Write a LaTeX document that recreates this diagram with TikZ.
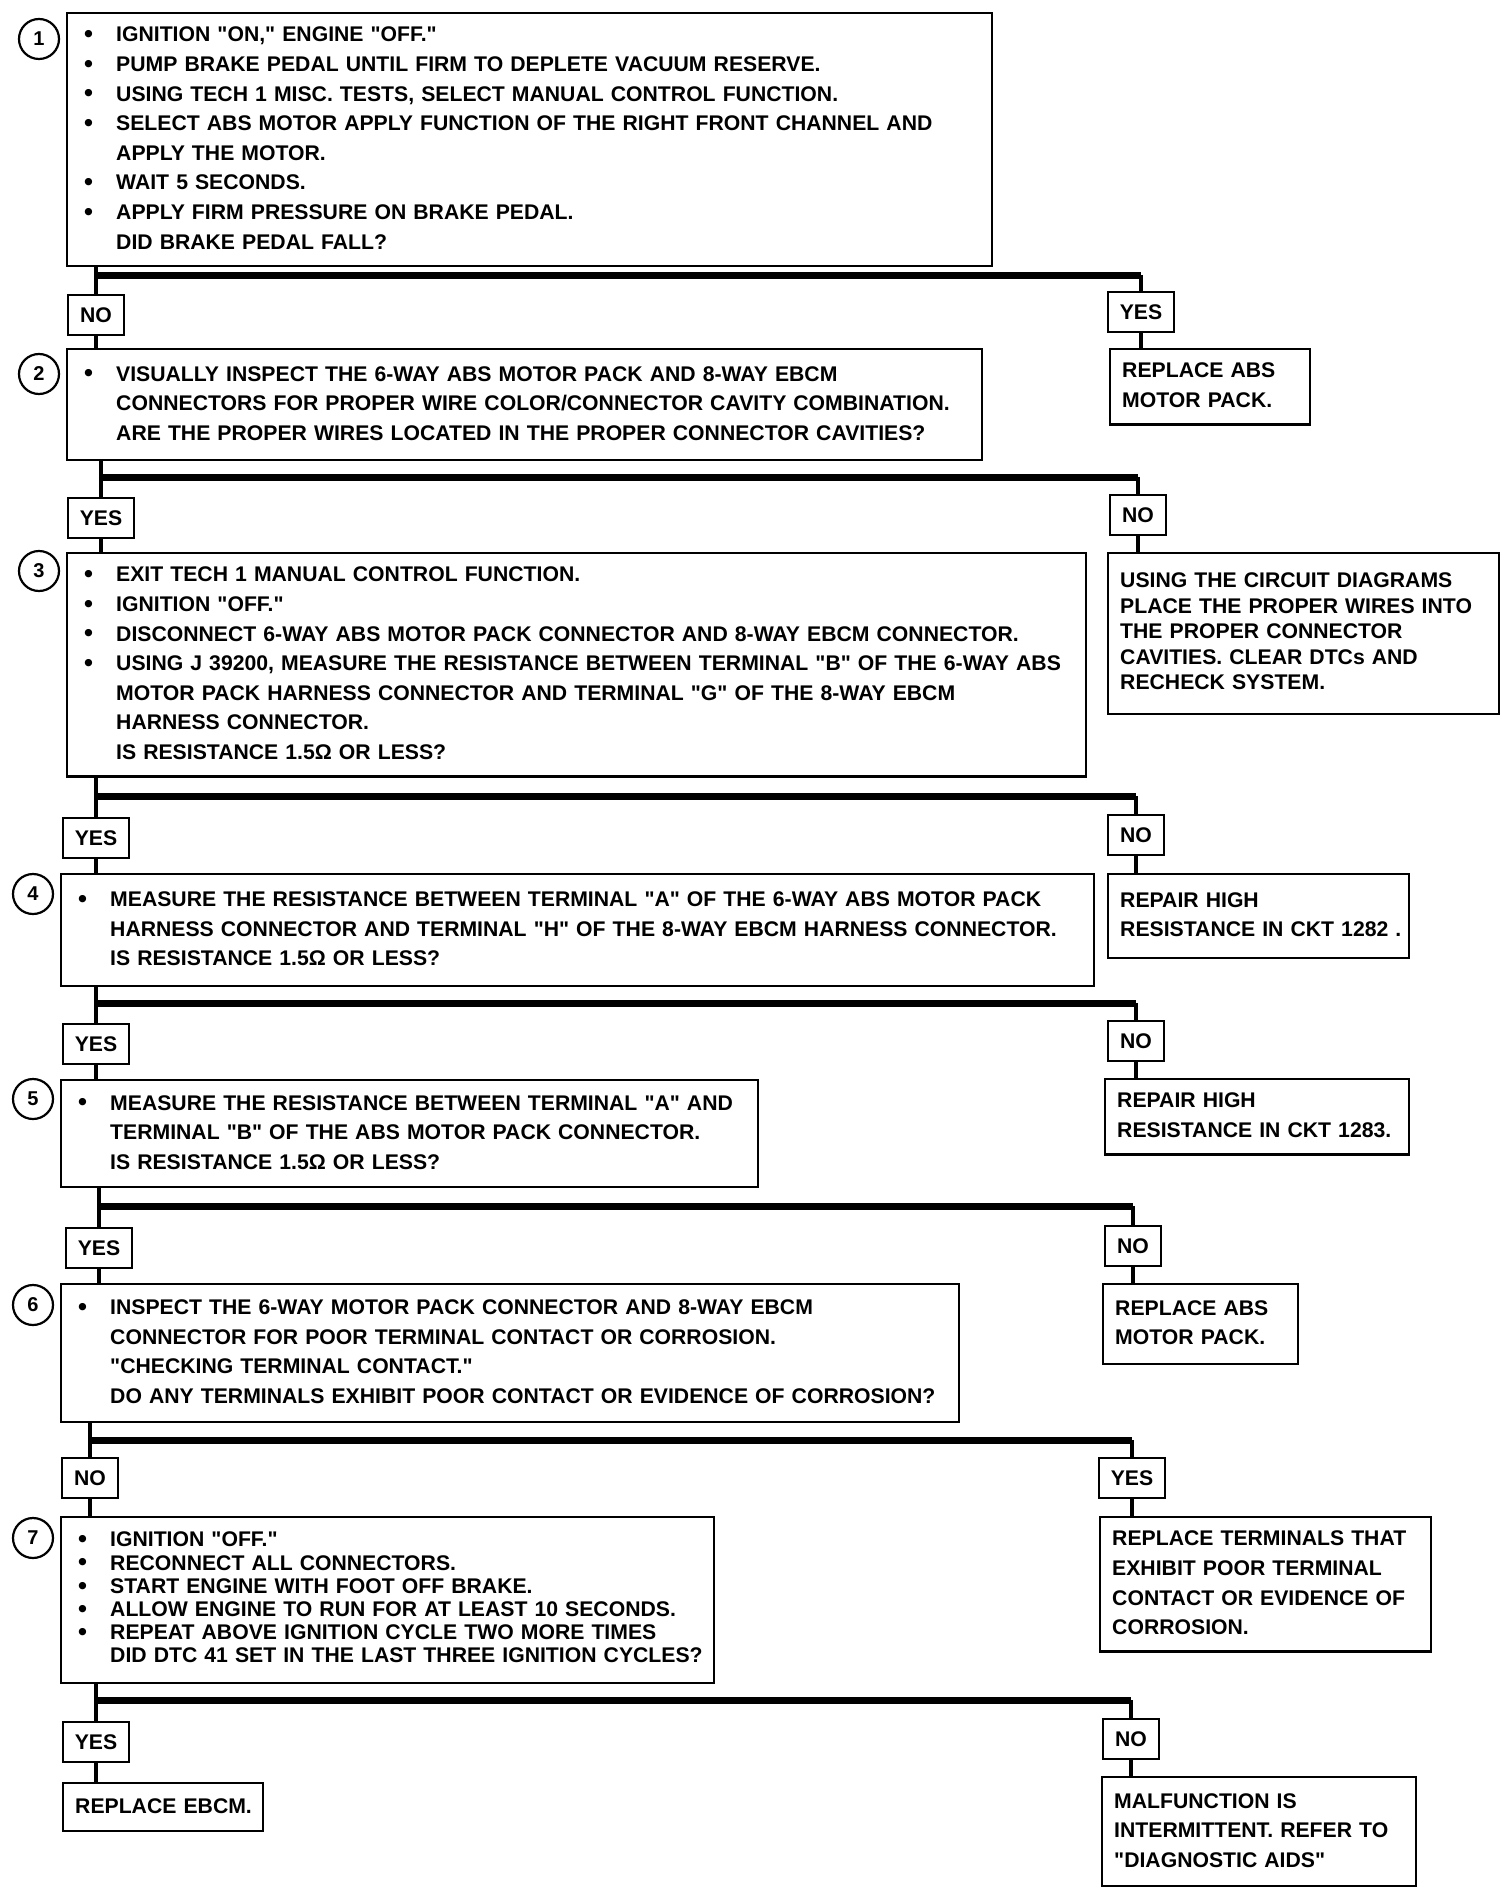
\documentclass[tikz,border=0pt]{standalone}
\usepackage{fontspec}
\setsansfont{Liberation Sans}
\usetikzlibrary{positioning}
\tikzset{
  qbox/.style={
    draw=black,
    line width=1.2pt,
    anchor=north west,
    align=left,
    inner xsep=6pt,
    inner ysep=4pt,
    font=\sffamily\bfseries\fontsize{10.6}{14.8}\selectfont
  },
  tightbox/.style={
    qbox,
    font=\sffamily\bfseries\fontsize{10.6}{11.6}\selectfont
  },
  actbox/.style={
    qbox
  },
  wideactbox/.style={
    actbox,
    font=\sffamily\bfseries\fontsize{10.6}{12.7}\selectfont
  },
  answer/.style={
    draw=black,
    line width=1.2pt,
    minimum height=20pt,
    inner xsep=6pt,
    font=\sffamily\bfseries\fontsize{10.6}{12}\selectfont
  },
  stepnum/.style={
    circle,
    draw=black,
    line width=1.1pt,
    minimum size=20pt,
    inner sep=0pt,
    font=\sffamily\bfseries\fontsize{10}{12}\selectfont
  },
  link/.style={
    line width=2pt,
    draw=black
  },
  barline/.style={
    line width=3.5pt,
    draw=black
  }
}
\newcommand{\itm}{\makebox[18.5pt][l]{\hspace{2.5pt}\raisebox{-0.4pt}{\scalebox{1.2}{\textbullet}}}}
\newcommand{\cont}{\hspace*{18.5pt}}
\newcommand{\qq}[1]{\textquotedbl#1\textquotedbl}
\newcommand{\rows}[1]{\begin{tabular}{@{}l@{}}#1\end{tabular}}

\begin{document}
\begin{tikzpicture}[x=0.5pt, y=-0.5pt]
\useasboundingbox (0,0) rectangle (1504,1894);

% step 1
\node[stepnum] (n1) at (39,39) {1};
\node[qbox, text width=450.5pt, minimum height=125.5pt] (q1) at (66,12) {\rows{
  \itm IGNITION \qq{ON,} ENGINE \qq{OFF.}\\
  \itm PUMP BRAKE PEDAL UNTIL FIRM TO DEPLETE VACUUM RESERVE.\\
  \itm USING TECH 1 MISC. TESTS, SELECT MANUAL CONTROL FUNCTION.\\
  \itm SELECT ABS MOTOR APPLY FUNCTION OF THE RIGHT FRONT CHANNEL AND\\
  \cont APPLY THE MOTOR.\\
  \itm WAIT 5 SECONDS.\\
  \itm APPLY FIRM PRESSURE ON BRAKE PEDAL.\\
  \cont DID BRAKE PEDAL FALL?}
};
\coordinate (j1) at (91,275);
\node[answer] (no1) at (96,315) {NO};
\node[answer] (yes1) at (1141,312) {YES};

% step 2
\node[stepnum] (n2) at (39,374) {2};
\node[qbox, text width=445.5pt, minimum height=55.5pt] (q2) at (66,348) {\rows{
  \itm VISUALLY INSPECT THE 6-WAY ABS MOTOR PACK AND 8-WAY EBCM\\
  \cont CONNECTORS FOR PROPER WIRE COLOR/CONNECTOR CAVITY COMBINATION.\\
  \cont ARE THE PROPER WIRES LOCATED IN THE PROPER CONNECTOR CAVITIES?}
};
\node[actbox, text width=88pt, minimum height=37.5pt] (r1) at (1109,348) {\rows{
  REPLACE ABS\\
  MOTOR PACK.}
};
\coordinate (j2) at (91,477);
\node[answer] (yes2) at (101,518) {YES};
\node[answer] (no2) at (1138,515) {NO};

% step 3
\node[stepnum] (n3) at (39,571) {3};
\node[qbox, text width=497.5pt, minimum height=111.5pt] (q3) at (66,552) {\rows{
  \itm EXIT TECH 1 MANUAL CONTROL FUNCTION.\\
  \itm IGNITION \qq{OFF.}\\
  \itm DISCONNECT 6-WAY ABS MOTOR PACK CONNECTOR AND 8-WAY EBCM CONNECTOR.\\
  \itm USING J 39200, MEASURE THE RESISTANCE BETWEEN TERMINAL \qq{B} OF THE 6-WAY ABS\\
  \cont MOTOR PACK HARNESS CONNECTOR AND TERMINAL \qq{G} OF THE 8-WAY EBCM\\
  \cont HARNESS CONNECTOR.\\
  \cont IS RESISTANCE 1.5Ω OR LESS?}
};
\node[wideactbox, text width=183.5pt, minimum height=80.5pt] (r2) at (1107,552) {\rows{
  USING THE CIRCUIT DIAGRAMS\\
  PLACE THE PROPER WIRES INTO\\
  THE PROPER CONNECTOR\\
  CAVITIES. CLEAR DTCs AND\\
  RECHECK SYSTEM.}
};
\coordinate (j3) at (93,796);
\node[answer] (yes3) at (96,838) {YES};
\node[answer] (no3) at (1136,835) {NO};

% step 4
\node[stepnum] (n4) at (33,894) {4};
\node[qbox, text width=504.5pt, minimum height=56pt] (q4) at (60,873) {\rows{
  \itm MEASURE THE RESISTANCE BETWEEN TERMINAL \qq{A} OF THE 6-WAY ABS MOTOR PACK\\
  \cont HARNESS CONNECTOR AND TERMINAL \qq{H} OF THE 8-WAY EBCM HARNESS CONNECTOR.\\
  \cont IS RESISTANCE 1.5Ω OR LESS?}
};
\node[actbox, text width=138.5pt, minimum height=42pt] (r3) at (1107,873) {\rows{
  REPAIR HIGH\\
  RESISTANCE IN CKT 1282 .}
};
\coordinate (j4) at (93,1003);
\node[answer] (yes4) at (96,1044) {YES};
\node[answer] (no4) at (1136,1041) {NO};

% step 5
\node[stepnum] (n5) at (33,1099) {5};
\node[qbox, text width=336.5pt, minimum height=53.5pt] (q5) at (60,1079) {\rows{
  \itm MEASURE THE RESISTANCE BETWEEN TERMINAL \qq{A} AND\\
  \cont TERMINAL \qq{B} OF THE ABS MOTOR PACK CONNECTOR.\\
  \cont IS RESISTANCE 1.5Ω OR LESS?}
};
\node[actbox, text width=140pt, minimum height=36pt] (r4) at (1104,1078) {\rows{
  REPAIR HIGH\\
  RESISTANCE IN CKT 1283.}
};
\coordinate (j5) at (93,1206);
\node[answer] (yes5) at (99,1248) {YES};
\node[answer] (no5) at (1133,1246) {NO};

% step 6
\node[stepnum] (n6) at (33,1305) {6};
\node[qbox, text width=437pt, minimum height=69pt] (q6) at (60,1283) {\rows{
  \itm INSPECT THE 6-WAY MOTOR PACK CONNECTOR AND 8-WAY EBCM\\
  \cont CONNECTOR FOR POOR TERMINAL CONTACT OR CORROSION.\\
  \cont \qq{CHECKING TERMINAL CONTACT.}\\
  \cont DO ANY TERMINALS EXHIBIT POOR CONTACT OR EVIDENCE OF CORROSION?}
};
\node[actbox, text width=85.5pt, minimum height=40pt] (r5) at (1102,1283) {\rows{
  REPLACE ABS\\
  MOTOR PACK.}
};
\coordinate (j6) at (91,1440);
\node[answer] (no6) at (90,1478) {NO};
\node[answer] (yes6) at (1132,1478) {YES};

% step 7
\node[stepnum] (n7) at (33,1538) {7};
\node[tightbox, text width=314.5pt, minimum height=83pt] (q7) at (60,1516) {\rows{
  \itm IGNITION \qq{OFF.}\\
  \itm RECONNECT ALL CONNECTORS.\\
  \itm START ENGINE WITH FOOT OFF BRAKE.\\
  \itm ALLOW ENGINE TO RUN FOR AT LEAST 10 SECONDS.\\
  \itm REPEAT ABOVE IGNITION CYCLE TWO MORE TIMES\\
  \cont DID DTC 41 SET IN THE LAST THREE IGNITION CYCLES?}
};
\node[actbox, text width=153.5pt, minimum height=67pt] (r6) at (1099,1516) {\rows{
  REPLACE TERMINALS THAT\\
  EXHIBIT POOR TERMINAL\\
  CONTACT OR EVIDENCE OF\\
  CORROSION.}
};
\coordinate (j7) at (91,1700);
\node[answer] (yes7) at (96,1742) {YES};
\node[answer] (no7) at (1131,1739) {NO};

% results
\node[actbox, text width=88pt, minimum height=24pt] (r7) at (62,1782) {\rows{REPLACE EBCM.}};
\node[actbox, text width=145pt, minimum height=54.5pt] (r8) at (1101,1776) {\rows{
  MALFUNCTION IS\\
  INTERMITTENT. REFER TO\\
  \qq{DIAGNOSTIC AIDS}}
};

% connectors
\draw[link] (q1.south -| no1) -- (no1.north);
\draw[barline] (no1 |- j1) -- (yes1 |- j1);
\draw[link] (yes1 |- j1) -- (yes1.north);
\draw[link] (no1) -- (q2.north -| no1);
\draw[link] (yes1) -- (r1.north -| yes1);

\draw[link] (q2.south -| yes2) -- (yes2.north);
\draw[barline] (yes2 |- j2) -- (no2 |- j2);
\draw[link] (no2 |- j2) -- (no2.north);
\draw[link] (yes2) -- (q3.north -| yes2);
\draw[link] (no2) -- (r2.north -| no2);

\draw[link] (q3.south -| yes3) -- (yes3.north);
\draw[barline] (yes3 |- j3) -- (no3 |- j3);
\draw[link] (no3 |- j3) -- (no3.north);
\draw[link] (yes3) -- (q4.north -| yes3);
\draw[link] (no3) -- (r3.north -| no3);

\draw[link] (q4.south -| yes4) -- (yes4.north);
\draw[barline] (yes4 |- j4) -- (no4 |- j4);
\draw[link] (no4 |- j4) -- (no4.north);
\draw[link] (yes4) -- (q5.north -| yes4);
\draw[link] (no4) -- (r4.north -| no4);

\draw[link] (q5.south -| yes5) -- (yes5.north);
\draw[barline] (yes5 |- j5) -- (no5 |- j5);
\draw[link] (no5 |- j5) -- (no5.north);
\draw[link] (yes5) -- (q6.north -| yes5);
\draw[link] (no5) -- (r5.north -| no5);

\draw[link] (q6.south -| no6) -- (no6.north);
\draw[barline] (no6 |- j6) -- (yes6 |- j6);
\draw[link] (yes6 |- j6) -- (yes6.north);
\draw[link] (no6) -- (q7.north -| no6);
\draw[link] (yes6) -- (r6.north -| yes6);

\draw[link] (q7.south -| yes7) -- (yes7.north);
\draw[barline] (yes7 |- j7) -- (no7 |- j7);
\draw[link] (no7 |- j7) -- (no7.north);
\draw[link] (yes7) -- (r7.north -| yes7);
\draw[link] (no7) -- (r8.north -| no7);

\end{tikzpicture}
\end{document}
